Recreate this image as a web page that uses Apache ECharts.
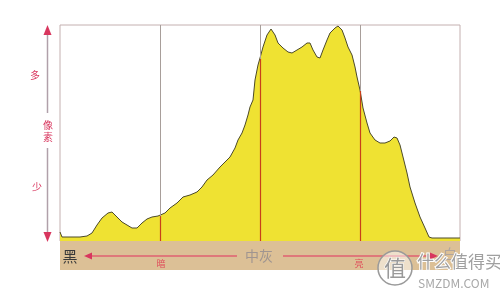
<!DOCTYPE html>
<html>
<head>
<meta charset="utf-8">
<script src="https://cdn.jsdelivr.net/npm/echarts@6/dist/echarts.min.js"></script>
<style>html,body{margin:0;padding:0;background:#fff}#c{width:500px;height:295px}</style>
</head>
<body>
<div id="c"></div>
<script>
// brightness position (0..400 across the plot) and pixel counts (relative height)
const levels = [0,2,10,20,27,32,37,42,48,52,57,62,67,72,77,82,87,92,98,105,110,117,123,130,137,142,147,153,160,165,170,175,178,182,185,188,190,193,195,198,200,203,207,211,215,218,223,228,232,237,242,247,250,253,257,260,263,267,270,275,278,282,285,288,292,295,297,300,303,307,310,315,320,325,330,334,337,340,343,347,350,355,360,365,369,372,400];
const counts = [9,4,4,4,5,8,16,23,28,29,24,19,16,13,13,18,22,24,25,28,33,38,44,46,49,54,61,66,74,79,84,93,101,108,116,126,134,141,161,176,183,194,206,212,206,198,193,189,188,191,194,198,198,191,184,183,191,201,208,213,215,211,203,194,186,174,164,151,133,118,108,101,98,98,100,104,103,96,84,68,54,38,24,13,4,3,3];
const dividers = [100, 200, 300];
const yLabels = ['多', '像素', '少'];
const zoneLabels = ['黑', '暗', '中灰', '亮', '白'];

function interp(x){
  for(let i=0;i<levels.length-1;i++){
    if(x>=levels[i] && x<=levels[i+1]){
      const t=(x-levels[i])/(levels[i+1]-levels[i]);
      return counts[i]+t*(counts[i+1]-counts[i]);
    }
  }
  return 0;
}
const data = levels.map((x,i)=>[x,counts[i]]);
const font = '"Noto Sans CJK SC", sans-serif';
const chart = echarts.init(document.getElementById('c'));
const red = '#d8365e';
chart.setOption({
  animation:false,
  grid:{left:60,right:40,top:25,bottom:54,show:true,borderColor:'#c4b0b0',borderWidth:1,backgroundColor:'#fff'},
  xAxis:{type:'value',min:0,max:400,show:false},
  yAxis:{type:'value',min:0,max:216,show:false},
  series:[
    {type:'line',data:[],z:1,
     markLine:{silent:true,symbol:'none',label:{show:false},
       lineStyle:{color:'#a89e9a',width:1,type:'solid'},
       data:dividers.map(d=>({xAxis:d}))}},
    {type:'line',data:data,z:2,symbol:'none',smooth:false,
     lineStyle:{color:'#4c4a2a',width:1},
     areaStyle:{color:'#efe232',opacity:1},
     markLine:{silent:true,symbol:'none',label:{show:false},
       lineStyle:{color:'#c8401a',width:1.2,type:'solid'},
       data:dividers.map(d=>[{coord:[d,0]},{coord:[d,interp(d)-1]}])}}
  ],
  graphic:[
    {type:'rect',z:100,shape:{x:60,y:241,width:400,height:29},style:{fill:'#dcc096'}},
    // left vertical arrow
    {type:'line',z:100,shape:{x1:47.5,y1:34,x2:47.5,y2:113},style:{stroke:'#b0a0aa',lineWidth:1.5}},
    {type:'line',z:100,shape:{x1:47.5,y1:148,x2:47.5,y2:234},style:{stroke:'#b0a0aa',lineWidth:1.5}},
    {type:'polygon',z:100,shape:{points:[[47.5,25],[43.5,35],[51.5,35]]},style:{fill:red}},
    {type:'polygon',z:100,shape:{points:[[47.5,242],[43.5,232],[51.5,232]]},style:{fill:red}},
    {type:'text',z:100,style:{text:yLabels[0],x:35,y:75,fill:red,font:'10px '+font,textAlign:'center',textVerticalAlign:'middle'}},
    {type:'text',z:100,style:{text:yLabels[1].split('').join('\n'),x:48,y:131,fill:red,font:'10px '+font,textAlign:'center',textVerticalAlign:'middle',lineHeight:12}},
    {type:'text',z:100,style:{text:yLabels[2],x:37,y:187,fill:red,font:'10px '+font,textAlign:'center',textVerticalAlign:'middle'}},
    // bottom band labels
    {type:'text',z:101,style:{text:zoneLabels[0],x:70,y:256,fill:'#3a3a3a',font:'15px '+font,textAlign:'center',textVerticalAlign:'middle'}},
    {type:'line',z:101,shape:{x1:88,y1:256,x2:237,y2:256},style:{stroke:'#e06070',lineWidth:1.5}},
    {type:'polygon',z:101,shape:{points:[[84,256],[92,252.5],[92,259.5]]},style:{fill:red}},
    {type:'text',z:101,style:{text:zoneLabels[1],x:161,y:264,fill:'#e04858',font:'9px '+font,textAlign:'center',textVerticalAlign:'middle'}},
    {type:'text',z:101,style:{text:zoneLabels[2],x:259,y:256,fill:'#a09590',font:'14px '+font,textAlign:'center',textVerticalAlign:'middle'}},
    {type:'line',z:101,shape:{x1:283,y1:256,x2:430,y2:256},style:{stroke:'#e06070',lineWidth:1.5}},
    {type:'polygon',z:101,shape:{points:[[438,256],[430,252.5],[430,259.5]]},style:{fill:red}},
    {type:'text',z:101,style:{text:zoneLabels[3],x:359,y:264,fill:'#e04858',font:'9px '+font,textAlign:'center',textVerticalAlign:'middle'}},
    {type:'text',z:101,style:{text:zoneLabels[4],x:450,y:254,fill:'#b0a59e',font:'14px '+font,textAlign:'center',textVerticalAlign:'middle'}},
    // watermark
    {type:'circle',z:102,shape:{cx:395,cy:268,r:17},style:{fill:'rgba(255,255,255,0.5)',stroke:'#9a9a9a',lineWidth:1.5}},
    {type:'text',z:103,style:{text:'值',x:395,y:268,fill:'#9a9a9a',font:'22px '+font,textAlign:'center',textVerticalAlign:'middle',stroke:'#fff',lineWidth:1}},
    {type:'text',z:103,style:{text:'什么值得买',x:417,y:262,fill:'#a0a0a0',font:'17px '+font,textAlign:'left',textVerticalAlign:'middle',stroke:'#fff',lineWidth:2}},
    {type:'text',z:103,style:{text:'SMZDM.COM',x:418,y:283,fill:'#a8a8a8',font:'12px '+font,textAlign:'left',textVerticalAlign:'middle',stroke:'#fff',lineWidth:2}}
  ]
});
</script>
</body>
</html>
